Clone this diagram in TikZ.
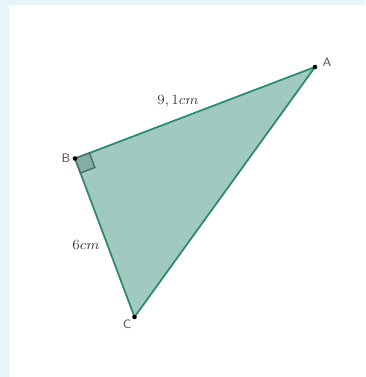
\documentclass[tikz,border=0pt]{standalone}
\usepackage{amsmath,amsfonts}
\usetikzlibrary{arrows,shapes,calc}
\definecolor{framebg}{RGB}{230,245,251}
\definecolor{trifill}{RGB}{160,202,192}
\definecolor{triline}{RGB}{48,136,112}
\definecolor{sqfill}{RGB}{132,174,164}
\definecolor{sqline}{RGB}{78,108,100}
\definecolor{lblgray}{RGB}{85,85,85}
\tikzstyle{vert}=[circle,fill=black,inner sep=0pt,minimum size=2.6pt]
\tikzstyle{vlabel}=[text=lblgray,font=\sffamily\fontsize{7}{8}\selectfont,inner sep=0pt]
\tikzstyle{side}=[text=lblgray!80!black,font=\fontsize{8.5}{10}\selectfont,inner sep=0pt]

\begin{document}
\begin{tikzpicture}[x=0.02cm,y=-0.02cm]
\fill[framebg] (0,0) rectangle (365,377);
\fill[white] (9,5) rectangle (365,377);
\useasboundingbox (0,0) rectangle (365,377);
\coordinate (A) at (315,67);
\coordinate (B) at (75,158.5);
\coordinate (C) at (134.5,317);
\fill[trifill,draw=triline,line width=1pt,line join=round] (A)--(B)--(C)--cycle;
\coordinate (sa) at ($(B)!0.31cm!(A)$);
\coordinate (sc) at ($(B)!0.31cm!(C)$);
\draw[sqline,fill=sqfill,line width=0.8pt] (B)--(sa)--($(sa)+(sc)-(B)$)--(sc)--cycle;
\node[vert] (pa) at (A) {};
\node[vert] (pb) at (B) {};
\node[vert] (pc) at (C) {};
\node[vlabel] (la) at (327,62) {A};
\node[vlabel] (lb) at (66,158) {B};
\node[vlabel] (lc) at (127,324) {C};
\node[side] (ab) at (178,101) {$9,1cm$};
\node[side] (bc) at (86,245) {$6cm$};
\end{tikzpicture}
\end{document}
